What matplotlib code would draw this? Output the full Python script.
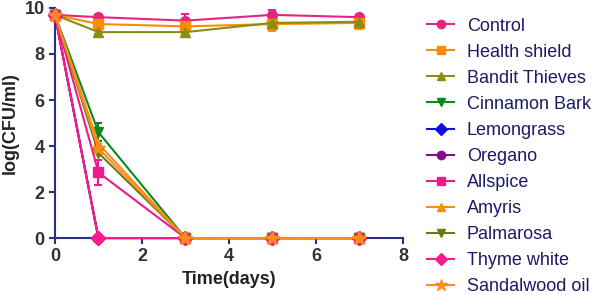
import numpy as np
import matplotlib.pyplot as plt
from matplotlib.lines import Line2D

plt.rcParams['font.family'] = ['Liberation Sans', 'DejaVu Sans']

days = [0, 1, 3, 5, 7]

# series: name, values, errors
names = ["Control", "Health shield", "Bandit Thieves", "Cinnamon Bark", "Lemongrass",
         "Oregano", "Allspice", "Amyris", "Palmarosa", "Thyme white", "Sandalwood oil"]
control = [9.7, 9.6, 9.45, 9.7, 9.6]
health_shield = [9.7, 9.3, 9.2, 9.3, 9.35]
bandit_thieves = [9.7, 8.95, 8.95, 9.35, 9.4]
cinnamon_bark = [9.7, 4.6, 0, 0, 0]
lemongrass = [9.7, 0, 0, 0, 0]
oregano = [9.7, 0, 0, 0, 0]
allspice = [9.7, 2.85, 0, 0, 0]
amyris = [9.7, 4.1, 0, 0, 0]
palmarosa = [9.7, 3.7, 0, 0, 0]
thyme_white = [9.7, 0, 0, 0, 0]
sandalwood = [9.7, 3.9, 0, 0, 0]

control_err = [0.05, 0.1, 0.3, 0.2, 0.05]
health_err = [0.05, 0.15, 0.15, 0.3, 0.25]
bandit_err = [0.05, 0.1, 0.1, 0.1, 0.1]
cinnamon_err = [0.05, 0.4, 0, 0, 0]
allspice_err = [0.05, 0.55, 0, 0, 0]
zero_err = [0, 0, 0, 0, 0]

series = [
    (control, control_err, '#e8237f', 'o'),
    (health_shield, health_err, '#ff8c00', 's'),
    (bandit_thieves, bandit_err, '#8c8c14', '^'),
    (cinnamon_bark, cinnamon_err, '#0a8a1e', 'v'),
    (lemongrass, zero_err, '#1010e0', 'D'),
    (oregano, zero_err, '#7d108a', 'o'),
    (allspice, allspice_err, '#ee1a8c', 's'),
    (amyris, zero_err, '#ff8c14', '^'),
    (palmarosa, zero_err, '#6b7a10', 'v'),
    (thyme_white, zero_err, '#ff1a8c', 'D'),
    (sandalwood, zero_err, '#ff8c1a', '*'),
]

navy = '#2b2f7f'

fig = plt.figure(figsize=(5.97, 2.95), dpi=100)
ax = fig.add_axes([0.092, 0.193, 0.583, 0.78])

handles = []
for name, (vals, errs, color, mk) in zip(names, series):
    ms = 10 if mk == '*' else 7
    ax.errorbar(days, vals, yerr=errs, color=color, marker=mk, markersize=ms,
                linewidth=1.5, capsize=3, capthick=1.5, elinewidth=1.5,
                clip_on=False, zorder=3)
    handles.append(Line2D([], [], color=color, marker=mk, markersize=ms - 1,
                          linewidth=1.5, label=name))

ax.set_xlim(0, 8)
ax.set_ylim(0, 10)
ax.set_xticks([0, 2, 4, 6, 8])
ax.set_yticks([0, 2, 4, 6, 8, 10])
for s in ['top', 'right']:
    ax.spines[s].set_visible(False)
for s in ['left', 'bottom']:
    ax.spines[s].set_color(navy)
    ax.spines[s].set_linewidth(1.5)
ax.tick_params(direction='out', length=4, width=1.5, color=navy,
               labelsize=13, labelcolor='#333333')
for lab in ax.get_xticklabels() + ax.get_yticklabels():
    lab.set_fontweight('bold')

ax.set_xlabel('Time(days)', fontsize=13, fontweight='bold', color='#222222')
ax.set_ylabel('log(CFU/ml)', fontsize=13, fontweight='bold', color='#222222')

leg = fig.legend(handles=handles, loc='upper left', bbox_to_anchor=(0.688, 0.995),
                 frameon=False, fontsize=13, labelspacing=0.5, handlelength=1.5,
                 handletextpad=0.7)
for t in leg.get_texts():
    t.set_color('#1a1a66')

fig.savefig('out.png', dpi=100)
